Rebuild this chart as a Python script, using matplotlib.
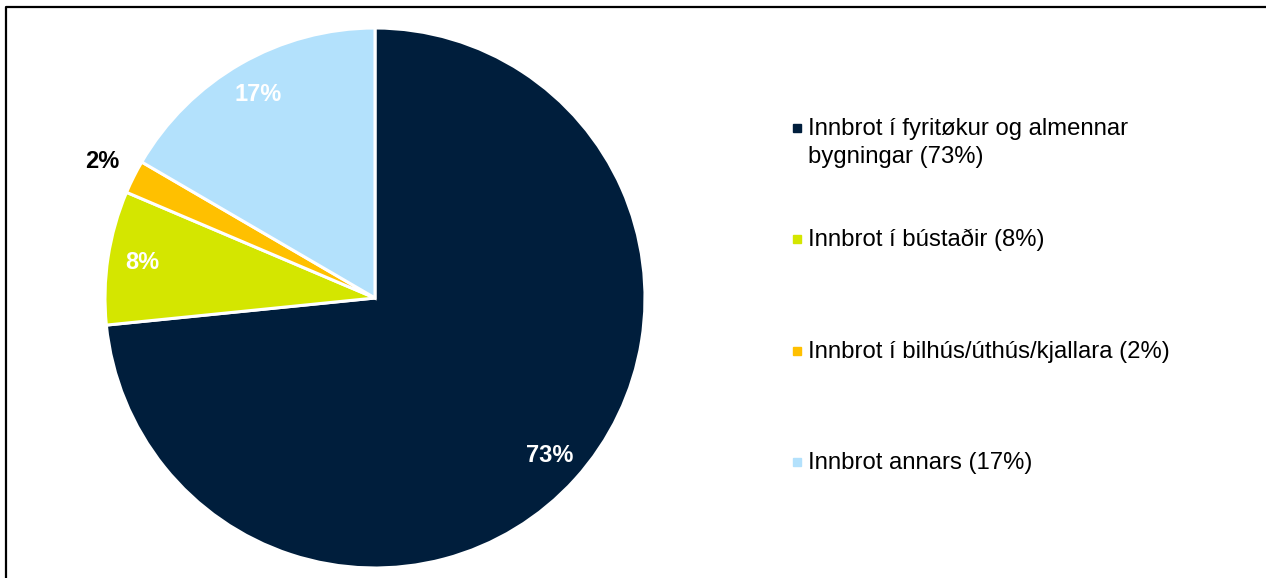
import matplotlib.pyplot as plt
from matplotlib.lines import Line2D
from matplotlib.patches import Rectangle
import numpy as np

# data (shares in %, slice angles)
labels = ["Innbrot í fyritøkur og almennar\nbygningar", "Innbrot í bústaðir",
          "Innbrot í bilhús/úthús/kjallara", "Innbrot annars"]
values = [73.4, 8.0, 2.0, 16.6]
colors = ["#001E3C", "#D4E600", "#FFC000", "#B3E1FC"]
pct_colors = ["white", "white", "black", "white"]

plt.rcParams['font.family'] = ['Liberation Sans', 'DejaVu Sans']

W, H = 1266, 578
fig = plt.figure(figsize=(W / 100, H / 100), dpi=100)

# pie axes: centre (375, 298) px, radius 270 px
cx, cy, r = 375, 298, 270
ax = fig.add_axes([(cx - r) / W, (H - cy - r) / H, 2 * r / W, 2 * r / H])
wedges, texts, autotexts = ax.pie(
    values, colors=colors, startangle=90, counterclock=False,
    autopct="%.0f%%", pctdistance=0.87,
    wedgeprops=dict(edgecolor="white", linewidth=2.2),
    textprops=dict(fontsize=17, fontweight="bold"))
ax.set_xlim(-1, 1)
ax.set_ylim(-1, 1)
ax.set_aspect("equal")

for w, t, c in zip(wedges, autotexts, pct_colors):
    t.set_color(c)
# small slice label goes outside
w = wedges[2]
ang = np.deg2rad((w.theta1 + w.theta2) / 2)
autotexts[2].set_position((1.13 * np.cos(ang), 1.13 * np.sin(ang)))

# legend drawn by hand
base_y = [135, 246, 358, 469]
for lab, v, col, by in zip(labels, values, colors, base_y):
    lines = (lab + " (%.0f%%)" % v).split("\n")
    for k, line in enumerate(lines):
        fig.text(808 / W, 1 - (by + 28 * k) / H, line, fontsize=17.2,
                 va="baseline", ha="left", color="black")
    fig.patches.append(Rectangle((793 / W, 1 - (by - 3) / H), 8 / W, 8 / H,
                                 transform=fig.transFigure, color=col))

# frame (only top and left visible)
fig.lines.append(Line2D([6 / W, 6 / W, 1.0], [0.0, 1 - 7 / H, 1 - 7 / H],
                        transform=fig.transFigure, color="black", linewidth=1.6))

fig.savefig("out.png", dpi=100)
